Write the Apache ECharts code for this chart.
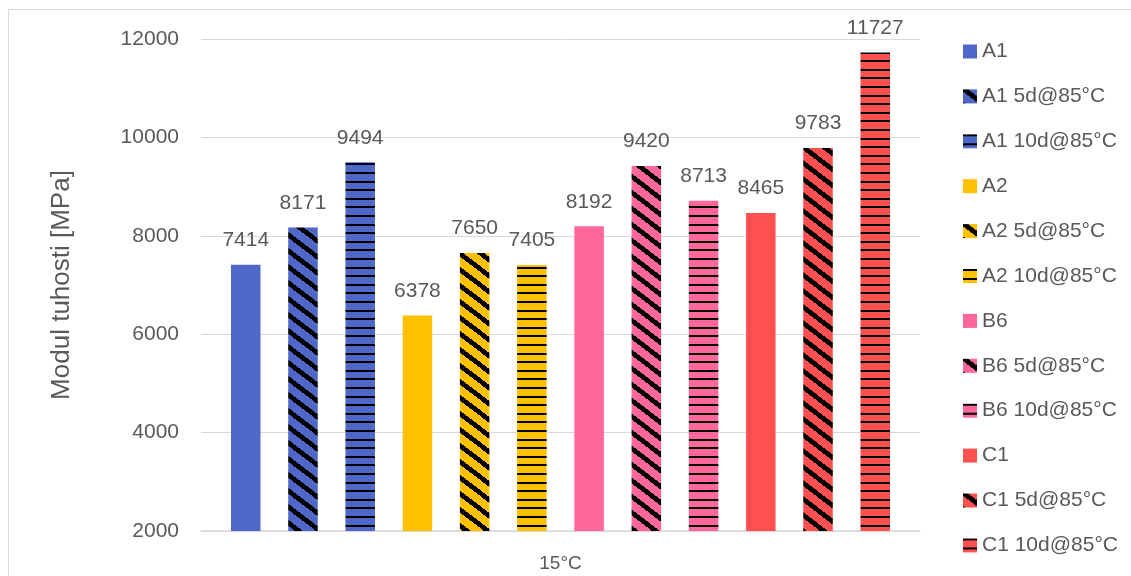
<!DOCTYPE html>
<html>
<head>
<meta charset="utf-8">
<script src="https://cdn.jsdelivr.net/npm/echarts@6/dist/echarts.min.js"></script>
<style>
  html, body { margin: 0; padding: 0; background: #fff; }
  #chart { width: 1131px; height: 576px; }
</style>
</head>
<body>
<div id="chart"></div>
<script>
// Tensile modulus of each mixture, untreated and after ageing at 85 °C
const categories = ['15°C'];
const seriesNames = [
  'A1', 'A1 5d@85°C', 'A1 10d@85°C',
  'A2', 'A2 5d@85°C', 'A2 10d@85°C',
  'B6', 'B6 5d@85°C', 'B6 10d@85°C',
  'C1', 'C1 5d@85°C', 'C1 10d@85°C'
];
const seriesValues = [7414, 8171, 9494, 6378, 7650, 7405, 8192, 9420, 8713, 8465, 9783, 11727];
const seriesColors = [
  '#4E67C8', '#4E67C8', '#4E67C8',
  '#FFC000', '#FFC000', '#FFC000',
  '#FF6699', '#FF6699', '#FF6699',
  '#FF5050', '#FF5050', '#FF5050'
];
const seriesFills = [
  'solid', 'diagonal', 'horizontal',
  'solid', 'diagonal', 'horizontal',
  'solid', 'diagonal', 'horizontal',
  'solid', 'diagonal', 'horizontal'
];
const yMin = 2000, yMax = 12000, yStep = 2000;

const FONT = "'Liberation Sans', Arial, sans-serif";
const TEXT = '#595959';
const LINE = '#D9D9D9';

// Downward diagonal hatch: black stripes falling left to right
function diagonalTile(base) {
  const w = 21, h = 16, c = document.createElement('canvas');
  c.width = w; c.height = h;
  const g = c.getContext('2d');
  g.fillStyle = base; g.fillRect(0, 0, w, h);
  g.fillStyle = '#000';
  for (let x = 0; x < w; x++) {
    const yc = Math.floor(x * h / w);
    for (let k = -3; k < 3; k++) {
      const y = ((yc + k) % h + h) % h;
      g.fillRect(x, y, 1, 1);
    }
  }
  return c;
}

// Horizontal hatch: thin black lines
function horizontalTile(base) {
  const w = 8, h = 43, c = document.createElement('canvas');
  c.width = w; c.height = h;
  const g = c.getContext('2d');
  g.fillStyle = base; g.fillRect(0, 0, w, h);
  g.fillStyle = '#000';
  [0, 9, 17, 26, 34].forEach(y => g.fillRect(0, y, w, 2));
  return c;
}

function fillFor(i) {
  const base = seriesColors[i];
  if (seriesFills[i] === 'diagonal') return { image: diagonalTile(base), repeat: 'repeat' };
  if (seriesFills[i] === 'horizontal') return { image: horizontalTile(base), repeat: 'repeat' };
  return base;
}

const series = seriesNames.map((name, i) => ({
  name: name,
  type: 'bar',
  data: [seriesValues[i]],
  barWidth: 29.5,
  barGap: '94%',
  itemStyle: { color: fillFor(i) },
  label: {
    show: true,
    position: 'top',
    distance: 14,
    color: TEXT,
    fontFamily: FONT,
    fontSize: 21
  }
}));

const chart = echarts.init(document.getElementById('chart'), null, { renderer: 'canvas' });
chart.setOption({
  animation: false,
  backgroundColor: '#fff',
  graphic: [{
    type: 'rect',
    shape: { x: 8.5, y: 9.5, width: 1140, height: 600 },
    style: { fill: 'none', stroke: LINE, lineWidth: 1 },
    silent: true
  }],
  grid: { left: 201, top: 39, width: 719, height: 492, containLabel: false },
  legend: {
    orient: 'vertical',
    left: 958,
    top: 36,
    padding: 5,
    itemWidth: 14,
    itemHeight: 14,
    itemGap: 23.9,
    itemTextGap: 6,
    selectedMode: false,
    icon: 'rect',
    data: seriesNames,
    textStyle: { color: TEXT, fontFamily: FONT, fontSize: 21, lineHeight: 21 }
  },
  xAxis: {
    type: 'category',
    data: categories,
    axisLine: { lineStyle: { color: LINE, width: 1.5 } },
    axisTick: { show: false },
    axisLabel: { color: TEXT, fontFamily: FONT, fontSize: 19, margin: 23 }
  },
  yAxis: {
    type: 'value',
    min: yMin,
    max: yMax,
    interval: yStep,
    name: 'Modul tuhosti [MPa]',
    nameLocation: 'middle',
    nameGap: 126,
    nameTextStyle: { color: TEXT, fontFamily: FONT, fontSize: 26 },
    axisLine: { show: false },
    axisTick: { show: false },
    axisLabel: {
      color: TEXT, fontFamily: FONT, fontSize: 21, margin: 22,
      formatter: v => String(v)
    },
    splitLine: { lineStyle: { color: LINE, width: 1 } }
  },
  series: series
});
</script>
</body>
</html>
